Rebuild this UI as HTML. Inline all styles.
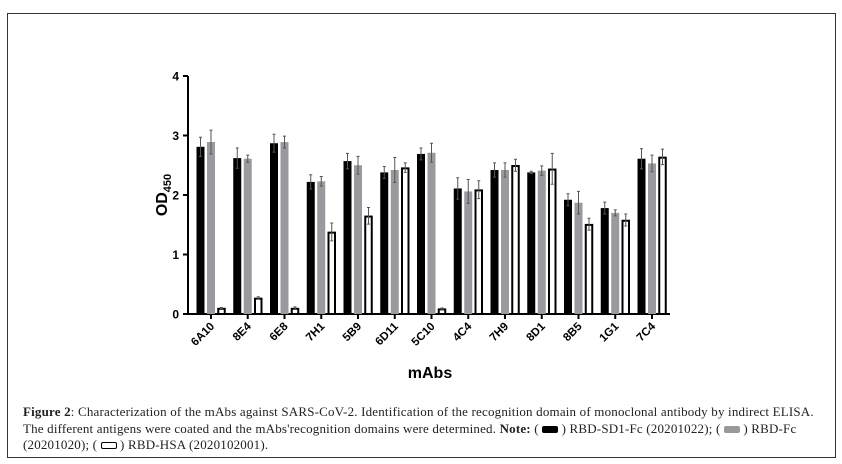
<!DOCTYPE html>
<html><head><meta charset="utf-8"><style>
body{margin:0;background:#fff;width:842px;height:464px;overflow:hidden}
svg text{font-family:"Liberation Sans",Arial,sans-serif}
.cap{position:absolute;left:23px;top:404px;width:815px;font-family:"Liberation Serif",serif;font-size:13px;letter-spacing:0.18px;line-height:16.5px;color:#222;white-space:nowrap}
</style></head><body>
<div style="position:absolute;left:7px;top:13px;width:827px;height:443px;border:1px solid #333;"></div>
<svg id="chart" width="842" height="400" style="position:absolute;left:0;top:0">
<g id="g"></g>
</svg>
<div class="cap"><b>Figure 2</b>: Characterization of the mAbs against SARS-CoV-2. Identification of the recognition domain of monoclonal antibody by indirect ELISA.<br>The different antigens were coated and the mAbs'recognition domains were determined. <b>Note:</b> ( <span style="display:inline-block;width:16px;height:7px;background:#000;border-radius:2px"></span> ) RBD-SD1-Fc (20201022); ( <span style="display:inline-block;width:16px;height:7px;background:#999;border-radius:2px"></span> ) RBD-Fc<br>(20201020); ( <span style="display:inline-block;width:14px;height:5px;border:1.5px solid #000;border-radius:2px"></span> ) RBD-HSA (2020102001).</div>
<script>
const categories=["6A10","8E4","6E8","7H1","5B9","6D11","5C10","4C4","7H9","8D1","8B5","1G1","7C4"];
const sd1fc=[2.81,2.62,2.87,2.22,2.57,2.38,2.69,2.11,2.42,2.38,1.92,1.78,2.61];
const sd1fcErr=[0.16,0.17,0.15,0.12,0.13,0.1,0.1,0.18,0.12,0.02,0.1,0.1,0.17];
const rbdfc=[2.89,2.61,2.89,2.23,2.5,2.42,2.71,2.06,2.42,2.41,1.87,1.7,2.53];
const rbdfcErr=[0.2,0.06,0.1,0.08,0.15,0.21,0.16,0.2,0.12,0.08,0.19,0.05,0.14];
const rbdhsa=[0.1,0.27,0.1,1.38,1.65,2.46,0.09,2.09,2.5,2.44,1.51,1.58,2.64];
const rbdhsaErr=[0.01,0.02,0.02,0.15,0.14,0.08,0.01,0.15,0.1,0.26,0.1,0.1,0.13];
const yTicks=[0,1,2,3,4];
const ns="http://www.w3.org/2000/svg",g=document.getElementById('g');
const y0=314,yTop=76,xL=188,xR=670,x0=211,step=36.75;
const y=v=>y0-(v/4)*(y0-yTop);
const xc=i=>x0+i*step;
function mk(t,a){const e=document.createElementNS(ns,t);for(const k in a)e.setAttribute(k,a[k]);g.appendChild(e);return e;}
const ax=mk('line',{x1:xL,y1:yTop,x2:xL,y2:y0+1,stroke:'#000','stroke-width':2});

const bx=mk('line',{x1:xL-1,y1:y0,x2:xR,y2:y0,stroke:'#000','stroke-width':2});

yTicks.forEach(v=>{const l=mk('line',{x1:xL-5,y1:y(v),x2:xL,y2:y(v),stroke:'#000','stroke-width':2});

const t=mk('text',{x:xL-9,y:y(v)+4.5,'text-anchor':'end','font-size':12,'font-weight':'bold'});t.textContent=v;
});
const series=[[sd1fc,sd1fcErr,'#000','none',-10.5],[rbdfc,rbdfcErr,'#9a999e','none',0],[rbdhsa,rbdhsaErr,'#fff','#000',10.5]];
categories.forEach((c,i)=>{
 series.forEach(([vals,errs,fill,stroke,off])=>{
  const cx=xc(i)+off,w=8,top=y(vals[i]);
  const r=mk('rect',{x:cx-w/2+(stroke!=='none'?0.75:0),y:top+(stroke!=='none'?0.75:0),width:w-(stroke!=='none'?1.5:0),height:y0-top-(stroke!=='none'?0.75:0),fill:fill,stroke:stroke,'stroke-width':stroke!=='none'?2:0});
  
  const e1=y(vals[i]+errs[i]),e2=y(vals[i]-errs[i]);
  const el=mk('path',{d:`M${cx},${e1}V${e2}M${cx-1.5},${e1}H${cx+1.5}M${cx-1.5},${e2}H${cx+1.5}`,stroke:'#555','stroke-width':1});
  
 });
 const tk=mk('line',{x1:xc(i),y1:y0,x2:xc(i),y2:y0+5,stroke:'#000','stroke-width':2});
 
 const t=mk('text',{x:xc(i)+4,y:y0+13,'text-anchor':'end','font-size':11.5,'font-weight':'bold',transform:`rotate(-45 ${xc(i)+4} ${y0+13})`});t.textContent=c;
 
});
const yt=mk('text',{x:0,y:0,'font-size':16,'font-weight':'bold','text-anchor':'middle',transform:'translate(167,195) rotate(-90)'});
yt.innerHTML='OD<tspan font-size="11" dy="4">450</tspan>';

const xt=mk('text',{x:430,y:378,'font-size':16,'font-weight':'bold','text-anchor':'middle'});xt.textContent='mAbs';

</script>
</body></html>
